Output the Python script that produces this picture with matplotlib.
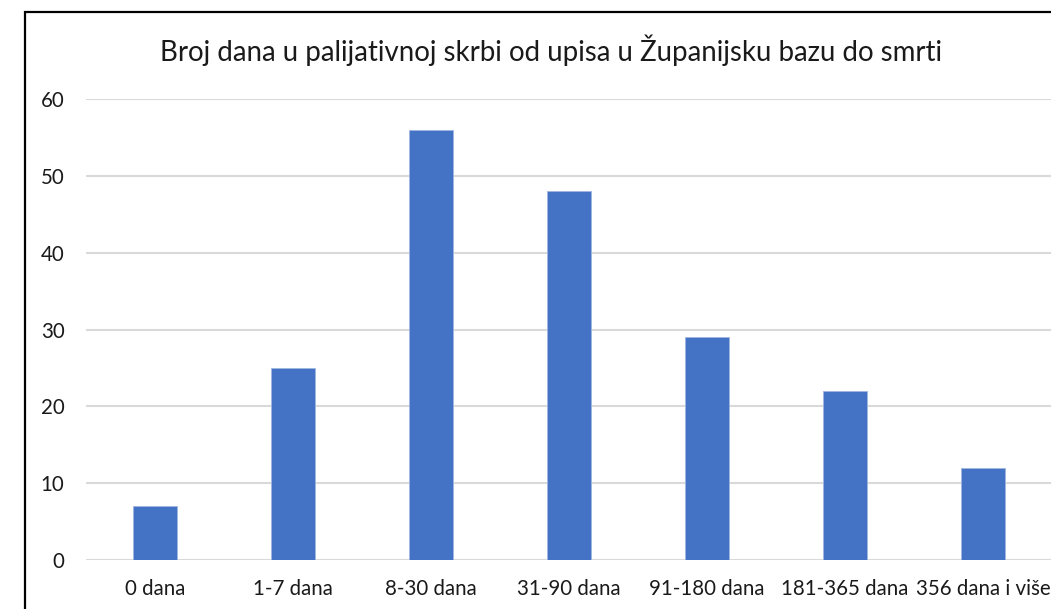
import matplotlib
matplotlib.use("Agg")
import matplotlib.pyplot as plt
from matplotlib.patches import Rectangle

# podaci
kategorije = ["0 dana", "1-7 dana", "8-30 dana", "31-90 dana", "91-180 dana", "181-365 dana", "356 dana i više"]
broj = [7, 25, 56, 48, 29, 22, 12]
y_ticks = [0, 10, 20, 30, 40, 50, 60]

plt.rcParams['font.family'] = ['Lato', 'DejaVu Sans']

W, H = 1051, 609
fig = plt.figure(figsize=(W / 100, H / 100), dpi=100)
ax = fig.add_axes([86 / W, 49 / H, 966 / W, 461 / H])

ax.bar(range(len(kategorije)), broj, width=0.32, color='#4472c4',
       edgecolor='#9fb6e0', linewidth=0.6, zorder=3)
ax.set_xlim(-0.5, len(kategorije) - 0.5)
ax.set_ylim(0, 60)
ax.set_yticks(y_ticks)
ax.set_xticks(range(len(kategorije)))
ax.set_xticklabels(kategorije)
ax.tick_params(axis='both', length=0, labelsize=14.8, colors='#1a1a1a')
ax.tick_params(axis='y', pad=15.5)
ax.tick_params(axis='x', pad=14)
ax.grid(axis='y', color='#d9d9d9', linewidth=1.5, zorder=0)
for s in ax.spines.values():
    s.set_visible(False)

# okvir grafikona (desni i donji rub izrezani)
fig.patches.append(Rectangle((25 / W, -0.1), 1.2, 1 - 12 / H + 0.1,
                             transform=fig.transFigure, fill=False,
                             edgecolor='black', linewidth=1.6))

fig.text(551 / W, 1 - 50 / H, "Broj dana u palijativnoj skrbi od upisa u Županijsku bazu do smrti",
         ha='center', va='center', fontsize=19.9, color='#1a1a1a')

fig.savefig("out.png", dpi=100)
